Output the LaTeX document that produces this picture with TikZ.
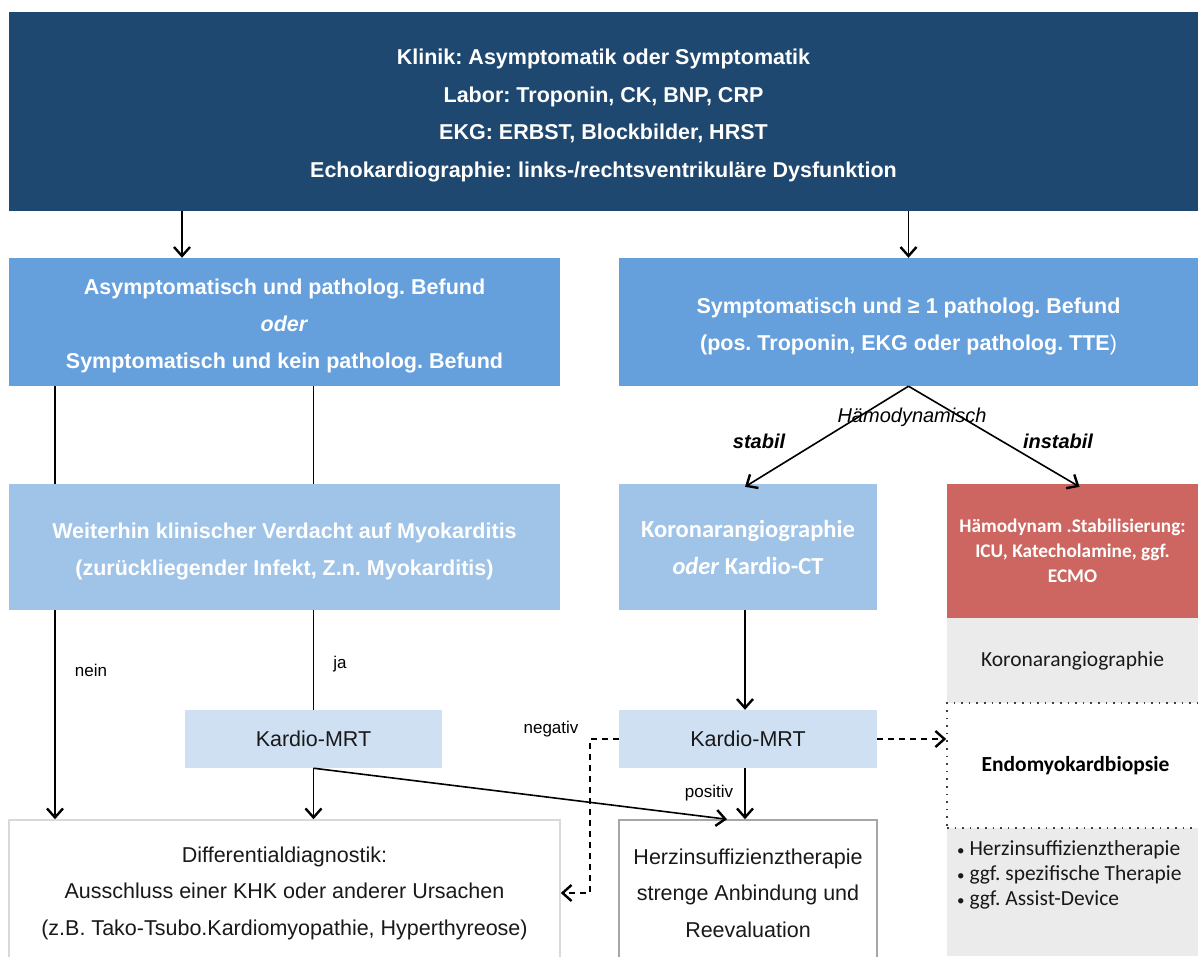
\documentclass[tikz,border=0pt]{standalone}
\usepackage{fontspec}
\setmainfont{Liberation Sans}
\newfontfamily\calibri{Carlito}
\usetikzlibrary{arrows.meta}
\frenchspacing

\definecolor{dunkelblau}{RGB}{31,72,112}
\definecolor{mittelblau}{RGB}{101,159,220}
\definecolor{hellblau}{RGB}{160,195,232}
\definecolor{mrtblau}{RGB}{207,224,243}
\definecolor{rot}{RGB}{205,102,96}
\definecolor{grau}{RGB}{235,235,235}

% etwas Luft ueber der ersten Zeile
\newcommand{\oben}{\rule{0pt}{24pt}}
\newcommand{\punkt}{{\fontsize{15}{25}\selectfont•}\ }

\begin{document}
\begin{tikzpicture}[x=1pt, y=-1pt,
    box/.style={rectangle, inner sep=0pt, align=center, text=white,
      font=\fontsize{21.5}{37}\selectfont\bfseries},
    weiss/.style={box, text=black!90, fill=white, font=\fontsize{21.5}{36.5}\selectfont},
    label/.style={inner sep=0pt, font=\fontsize{17}{20}\selectfont},
    pfeil/.style={-{Straight Barb[length=9pt,width=16pt,line width=2.4pt]}, line width=1.6pt},
    strich/.style={line width=1.6pt},
    gestrichelt/.style={pfeil, dash pattern=on 6pt off 5pt}]
  \useasboundingbox (0,0) rectangle (1198,956);

  % obere Ebene
  \node[box, fill=dunkelblau, minimum width=1189pt, minimum height=199pt,
    font=\fontsize{21.5}{37.5}\selectfont\bfseries] (klinik) at (603.5,111.5)
    {\oben Klinik: Asymptomatik oder Symptomatik\\
     Labor: Troponin, CK, BNP, CRP\\
     EKG: ERBST, Blockbilder, HRST\\
     Echokardiographie: links-/rechtsventrikuläre Dysfunktion};
  \node[box, fill=mittelblau, minimum width=551pt, minimum height=128pt] (asym) at (284.5,322)
    {\oben Asymptomatisch und patholog. Befund\\ \textit{oder}\\ Symptomatisch und kein patholog. Befund};
  \node[box, fill=mittelblau, minimum width=579pt, minimum height=128pt] (sympt) at (908.5,322)
    {\oben Symptomatisch und ≥ 1 patholog. Befund\\ (pos. Troponin, EKG oder patholog. TTE\textmd{)}};

  % mittlere Ebene
  \node[box, fill=hellblau, minimum width=551pt, minimum height=126pt] (verdacht) at (284.5,547)
    {\oben Weiterhin klinischer Verdacht auf Myokarditis\\ (zurückliegender Infekt, Z.n. Myokarditis)};
  \node[box, fill=hellblau, minimum width=258pt, minimum height=126pt,
    font=\calibri\fontsize{24.5}{37}\selectfont\bfseries] (koro) at (748,547)
    {Koronarangiographie\\ \textit{oder} Kardio-CT};
  \node[box, fill=rot, minimum width=251pt, minimum height=134pt,
    font=\calibri\fontsize{19.3}{25}\selectfont\bfseries] (stabil) at (1072.5,551)
    {Hämodynam .Stabilisierung:\\ ICU, Katecholamine, ggf.\\ ECMO};

  % rechte Spalte
  \fill[grau] (947,618) rectangle (1198,956);
  \node[box, text=black!90, minimum width=251pt, minimum height=85pt,
    font=\calibri\fontsize{21.5}{25}\selectfont] (koro2) at (1072.5,660.5) {Koronarangiographie};
  \node[box, text=black, fill=white, draw=black!75, line width=1.6pt, dash pattern=on 1.6pt off 6pt,
    minimum width=257pt, minimum height=125pt,
    font=\calibri\fontsize{21.5}{25}\selectfont\bfseries] (biopsie) at (1075.5,765.5) {Endomyokardbiopsie};
  \node[inner sep=0pt, anchor=west, align=left, text=black!90,
    font=\calibri\fontsize{21.5}{25}\selectfont] (therapie) at (957,875)
    {\punkt Herzinsuffizienztherapie\\ \punkt ggf. spezifische Therapie\\ \punkt ggf. Assist-Device};

  % untere Ebene
  \node[weiss, fill=mrtblau, minimum width=257pt, minimum height=58pt] (mrtL) at (313.5,739) {Kardio-MRT};
  \node[weiss, fill=mrtblau, minimum width=258pt, minimum height=58pt] (mrtR) at (748,739) {Kardio-MRT};
  \node[weiss, draw=black!15, line width=1.5pt, minimum width=551pt, minimum height=146pt] (diff) at (284.5,893)
    {Differentialdiagnostik:\\ Ausschluss einer KHK oder anderer Ursachen\\
     (z.B. Tako-Tsubo.Kardiomyopathie, Hyperthyreose)};
  \node[weiss, draw=black!35, line width=1.5pt, minimum width=258pt, minimum height=146pt] (herz) at (748,893)
    {Herzinsuffizienztherapie\\ strenge Anbindung und\\ Reevaluation};

  % Verbindungen
  \draw[pfeil] ([xshift=-102.5pt]asym.north |- klinik.south) -- ([xshift=-102.5pt]asym.north);
  \draw[pfeil] (sympt.north |- klinik.south) -- (sympt.north);
  \draw[strich] ([xshift=-229.5pt]asym.south) -- ([xshift=-229.5pt]verdacht.north);
  \draw[strich] (asym.south -| mrtL.north) -- (verdacht.north -| mrtL.north);
  \draw[pfeil] (sympt.south) -- ([xshift=-3pt,yshift=-3pt]koro.north);
  \draw[pfeil] (sympt.south) -- ([xshift=7pt,yshift=-3pt]stabil.north);
  \draw[pfeil] ([xshift=-229.5pt]verdacht.south) -- ([xshift=-229.5pt]verdacht.south |- diff.north);
  \draw[strich] (verdacht.south -| mrtL.north) -- (mrtL.north);
  \draw[pfeil] (mrtL.south) -- (diff.north -| mrtL.south);
  \draw[pfeil] (mrtL.south) -- ([xshift=-21pt]herz.north);
  \draw[pfeil] ([xshift=-3pt]koro.south) -- ([xshift=-3pt]mrtR.north);
  \draw[pfeil] ([xshift=-3pt]mrtR.south) -- ([xshift=-3pt]herz.north);
  \draw[gestrichelt] (mrtR.west) -- ++(-29,0) |- (diff.east);
  \draw[gestrichelt] (mrtR.east) -- (mrtR.east -| biopsie.west);

  % Beschriftungen
  \node[label, font=\fontsize{20}{24}\selectfont\itshape] (hdyn) at (912,417) {Hämodynamisch};
  \node[label, font=\fontsize{20}{24}\selectfont\bfseries\itshape] (stab) at (759,441) {stabil};
  \node[label, font=\fontsize{20}{24}\selectfont\bfseries\itshape] (instab) at (1058,441) {instabil};
  \node[label] (nein) at (91,670) {nein};
  \node[label] (ja) at (340,664) {ja};
  \node[label] (neg) at (551,729) {negativ};
  \node[label] (pos) at (709,793) {positiv};
\end{tikzpicture}
\end{document}
